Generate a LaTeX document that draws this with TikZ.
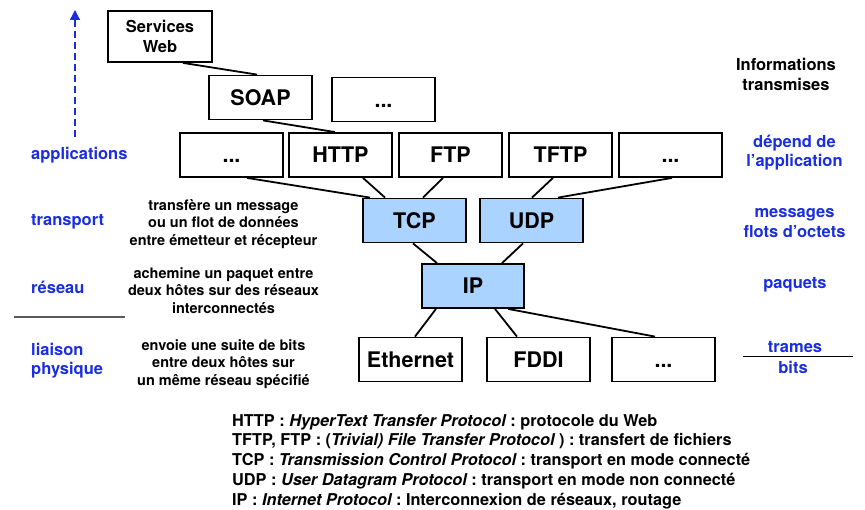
\documentclass[tikz,border=0pt]{standalone}
\usepackage{fontspec}
\setmainfont{TeX Gyre Heros}
\usetikzlibrary{arrows.meta}
\frenchspacing
\definecolor{layerblue}{RGB}{25,45,225}
\definecolor{transpfill}{RGB}{170,212,255}
\definecolor{rulegray}{RGB}{90,90,90}
\begin{document}
\begin{tikzpicture}[x=1pt,y=-1pt,
  box/.style={draw=black, line width=1.8pt, inner sep=0pt, minimum width=103pt, minimum height=44pt},
  proto/.style={box, font=\fontsize{21.5}{24}\selectfont\bfseries, text height=15.5pt, text depth=0pt},
  transp/.style={proto, fill=transpfill},
  wire/.style={line width=1.8pt},
  layer/.style={text=layerblue, font=\fontsize{16.5}{19.5}\selectfont\bfseries, inner sep=0pt},
  info/.style={layer, align=center},
  role/.style={font=\fontsize{14.5}{17.5}\selectfont\bfseries, align=center, inner sep=0pt}]
\useasboundingbox (0,0) rectangle (865,510);
\node [box, minimum width=104pt, minimum height=51pt, align=center, font=\fontsize{16.5}{20}\selectfont\bfseries] (web) at (160,36.5) {Services\\Web};
\node [proto] (soap) at (260.5,97.5) {SOAP};
\node [proto] (other) at (383.5,99.5) {...};
\node [proto] (app1) at (231.5,155) {...};
\node [proto] (http) at (340.5,155) {HTTP};
\node [proto] (ftp) at (450.5,155) {FTP};
\node [proto] (tftp) at (560.5,155) {TFTP};
\node [proto] (app2) at (670.5,155) {...};
\node [transp] (tcp) at (414.5,220.5) {TCP};
\node [transp] (udp) at (531.5,220.5) {UDP};
\node [transp, minimum width=102pt] (ip) at (473,286) {IP};
\node [proto] (eth) at (410.5,359.5) {Ethernet};
\node [proto] (fddi) at (538.5,359.5) {FDDI};
\node [proto] (lan) at (663.5,359.5) {...};
\draw [wire] ([xshift=23pt]web.south) -- ([xshift=-3.5pt]soap.north);
\draw [wire] ([xshift=2.5pt]soap.south) -- ([xshift=-5.5pt]http.north);
\draw [wire] ([xshift=15.5pt]app1.south) -- ([xshift=-44.5pt]tcp.north);
\draw [wire] ([xshift=22.5pt]http.south) -- ([xshift=-29.5pt]tcp.north);
\draw [wire] ([xshift=-7.5pt]ftp.south) -- ([xshift=8.5pt]tcp.north);
\draw [wire] ([xshift=-7.5pt]tftp.south) -- ([xshift=0.5pt]udp.north);
\draw [wire] ([xshift=1.5pt]app2.south) -- ([xshift=26.5pt]udp.north);
\draw [wire] ([xshift=-1.5pt]tcp.south) -- ([xshift=-36pt]ip.north);
\draw [wire] ([xshift=-8.5pt]udp.south) -- ([xshift=29pt]ip.north);
\draw [wire] ([xshift=-37pt]ip.south) -- ([xshift=4.5pt]eth.north);
\draw [wire] ([xshift=22pt]ip.south) -- ([xshift=-21.5pt]fddi.north);
\draw [wire] ([xshift=35pt]ip.south) -- ([xshift=-8.5pt]lan.north);
\node [layer, anchor=west] (apps) at (31,155) {applications};
\node [layer, anchor=west] (transport) at (31,222) {transport};
\node [layer, anchor=west] (network) at (31,287) {réseau};
\node [layer, anchor=west, align=left] (physical) at (31,360.5) {liaison\\physique};
\coordinate (apptop) at (75,10);
\draw [layerblue, line width=1.3pt, dash pattern=on 7pt off 4pt, -{Triangle[length=10pt,width=10pt]}] ([yshift=10pt]apps.north -| apptop) -- (apptop);
\draw [rulegray, line width=1.3pt] (14,317) -- (125,317);
\node [role] (transportrole) at (223.5,224) {transfère un message\\ou un flot de données\\entre émetteur et récepteur};
\node [role] (networkrole) at (223.5,290.5) {achemine un paquet entre\\deux hôtes sur des réseaux\\interconnectés};
\node [role] (physicalrole) at (223.5,364) {envoie une suite de bits\\entre deux hôtes sur\\un même réseau spécifié};
\node [font=\fontsize{16.5}{20}\selectfont\bfseries, align=center, inner sep=0pt] (infos) at (786,74) {Informations\\transmises};
\node [info] (appdata) at (794.5,152.5) {dépend de\\l’application};
\node [info] (segments) at (794.5,223) {messages\\flots d’octets};
\node [info] (packets) at (795,285) {paquets};
\node [info] (frames) at (795,347) {trames};
\node [info] (bits) at (793,367) {bits};
\draw [line width=1pt] (743,357) -- (853,357);
\node [anchor=north west, align=left, inner sep=0pt, font=\fontsize{16.3}{19.9}\selectfont\bfseries] (legend) at (232,414) {HTTP : {\itshape HyperText Transfer Protocol} : protocole du Web\\TFTP, FTP : ({\itshape Trivial) File Transfer Protocol} ) : transfert de fichiers\\TCP : {\itshape Transmission Control Protocol} : transport en mode connecté\\UDP : {\itshape User Datagram Protocol} : transport en mode non connecté\\IP : {\itshape Internet Protocol} : Interconnexion de réseaux, routage};
\end{tikzpicture}
\end{document}
